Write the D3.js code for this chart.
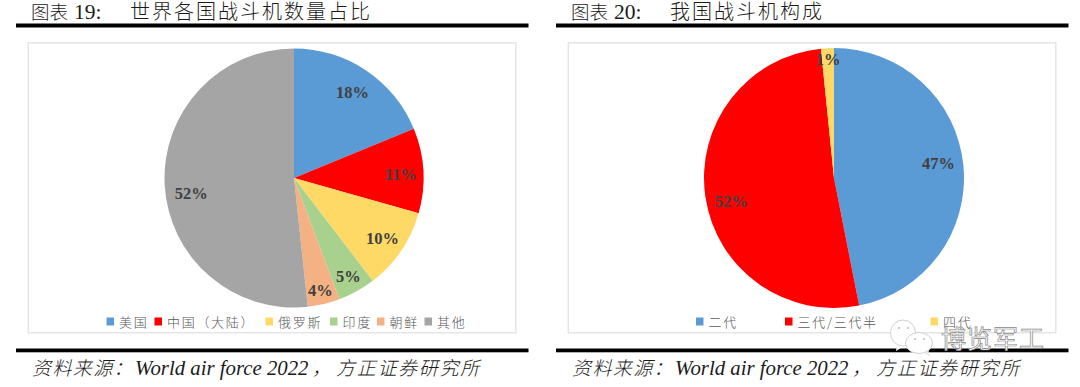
<!DOCTYPE html>
<html><head><meta charset="utf-8">
<script src="https://cdn.jsdelivr.net/npm/d3@7/dist/d3.min.js"></script>
<style>
html,body{margin:0;padding:0;background:#fff;overflow:hidden}
svg{display:block}
</style></head><body><svg id="c" width="1080" height="387"></svg>
<script>
const titlesCn=["图表","图表"];
const titlesNum=["19:","20:"];
const subtitles=["世界各国战斗机数量占比","我国战斗机构成"];
const sourceCn1="资料来源\uFF1A";
const sourceEn="World air force 2022";
const sourceComma="\uFF0C";
const sourceCn2="方正证券研究所";
const cats1=["美国","中国\uFF08大陆\uFF09","俄罗斯","印度","朝鲜","其他"];
const vals1=[18.8,10.6,10.2,4.7,4.0,51.7];
const labels1=["18%","11%","10%","5%","4%","52%"];
const labelR1=[105,107,107,112,115,103];
const labelDy1=[1,2,0,0,0,10];
const colors1=["#5b9bd5","#ff0000","#ffd966","#a9d18e","#f4b183","#a5a5a5"];
const legendX1=[106.5,154.5,265.5,330,377,424.5];
const cats2=["二代","三代/三代半","四代"];
const vals2=[46.9,51.5,1.6];
const labels2=["47%","52%","1%"];
const labelR2=[105,104,119];
const labelDy2=[-5,8,0];
const colors2=["#5b9bd5","#ff0000","#ffd966"];
const legendX2=[696,785,930.5];
const watermark="博览军工";

const serif="'Liberation Serif','Noto Sans CJK SC',serif";
const cjk="'Noto Sans CJK SC',sans-serif";
const svg=d3.select("#c");

function panel(o){
  const g=svg.append("g");
  g.append("text").attr("x",o.x0+15).attr("y",19).attr("font-family",cjk).attr("font-size",18.5)
    .attr("font-weight",300).attr("fill","#1a1a1a").text(o.titleCn);
  g.append("text").attr("x",o.x0+58).attr("y",19).attr("font-family",serif).attr("font-size",21.5)
    .attr("fill","#1a1a1a").text(o.titleNum);
  g.append("text").attr("x",o.x0+114).attr("y",19).attr("font-family",cjk).attr("font-size",20)
    .attr("letter-spacing",2).attr("font-weight",300).attr("fill","#1a1a1a").text(o.sub);
  g.append("rect").attr("x",o.x0).attr("y",23.5).attr("width",512.5).attr("height",4).attr("fill","#000");
  g.append("rect").attr("x",o.x0+12.3).attr("y",42.8).attr("width",487.5).attr("height",290)
    .attr("fill","#fff").attr("stroke","#e4e4e4").attr("stroke-width",1.4);
  const pie=d3.pie().sort(null).value(d=>d);
  const arc=d3.arc().innerRadius(0).outerRadius(o.r);
  const arcs=pie(o.vals);
  const pg=g.append("g").attr("transform",`translate(${o.cx},${o.cy})`);
  pg.selectAll("path").data(arcs).join("path").attr("d",arc).attr("fill",(d,i)=>o.colors[i]);
  pg.selectAll("text").data(arcs).join("text")
    .attr("transform",(d,i)=>{const c=d3.arc().innerRadius(o.labelR[i]).outerRadius(o.labelR[i]).centroid(d);return `translate(${c[0]},${c[1]+o.labelDy[i]})`;})
    .attr("text-anchor","middle").attr("dy","0.35em")
    .attr("font-family",serif).attr("font-weight","bold").attr("font-size",16.5).attr("fill","#404040")
    .text((d,i)=>o.labels[i]);
  const lg=g.append("g");
  o.cats.forEach((c,i)=>{
    lg.append("rect").attr("x",o.legendX[i]).attr("y",317.5).attr("width",7.5).attr("height",8).attr("fill",o.colors[i]);
    lg.append("text").attr("x",o.legendX[i]+12.5).attr("y",326.5).attr("font-family",cjk).attr("font-size",13)
      .attr("letter-spacing",1.7).attr("font-weight",300).attr("fill","#595959").text(c);
  });
  g.append("rect").attr("x",o.x0).attr("y",348.5).attr("width",512.5).attr("height",3.8).attr("fill","#000");
  const t=g.append("text").attr("y",375).attr("font-size",19).attr("font-style","italic").attr("fill","#1a1a1a");
  t.append("tspan").attr("x",o.x0+16).attr("font-family",cjk).attr("font-weight",300).attr("letter-spacing",1.4).text(sourceCn1);
  t.append("tspan").attr("x",o.x0+119).attr("font-family",serif).attr("font-size",20.8).text(sourceEn);
  t.append("tspan").attr("x",o.x0+296).attr("font-family",cjk).attr("font-weight",300).text(sourceComma);
  t.append("tspan").attr("x",o.x0+320).attr("font-family",cjk).attr("font-weight",300).attr("letter-spacing",1.7).text(sourceCn2);
}
panel({x0:16,titleCn:titlesCn[0],titleNum:titlesNum[0],sub:subtitles[0],cx:294,cy:178,r:129.5,vals:vals1,labels:labels1,labelR:labelR1,labelDy:labelDy1,colors:colors1,cats:cats1,legendX:legendX1});
panel({x0:556,titleCn:titlesCn[1],titleNum:titlesNum[1],sub:subtitles[1],cx:834,cy:178,r:130,vals:vals2,labels:labels2,labelR:labelR2,labelDy:labelDy2,colors:colors2,cats:cats2,legendX:legendX2});

// watermark
const w=svg.append("g");
w.append("path").attr("d","M897 345 L896 351 L904 346 Z").attr("fill","#fff");
w.append("ellipse").attr("cx",903).attr("cy",333).attr("rx",12.5).attr("ry",13).attr("fill","#fff").attr("stroke","#d0d0d0");
w.append("path").attr("d","M922 351 L930 357 L928 348 Z").attr("fill","#e8e8e8");
w.append("ellipse").attr("cx",919).attr("cy",343).attr("rx",13.5).attr("ry",10.5).attr("fill","#fff").attr("stroke","#d0d0d0");
w.selectAll("circle.eye").data([[899,328],[908,328],[915,339],[924,339]]).join("circle").attr("class","eye")
  .attr("cx",d=>d[0]).attr("cy",d=>d[1]).attr("r",1).attr("fill","#bbb");
w.append("text").attr("x",941).attr("y",348).attr("font-family",cjk).attr("font-size",25)
  .attr("fill","#fff").attr("stroke","#888").attr("stroke-width",.7).attr("letter-spacing",1).text(watermark);
</script></body></html>
